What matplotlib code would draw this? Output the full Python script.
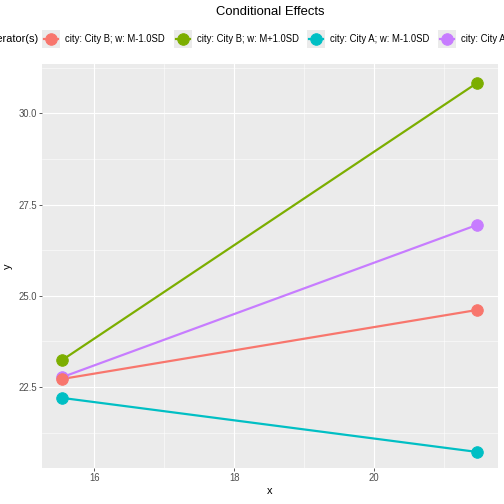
import matplotlib.pyplot as plt
from matplotlib.lines import Line2D
from matplotlib.patches import Rectangle

plt.rcParams['font.family'] = ['Liberation Sans', 'DejaVu Sans']

# data
x_vals = [15.54, 21.47]
labels = ["city: City B; w: M-1.0SD", "city: City B; w: M+1.0SD",
          "city: City A; w: M-1.0SD", "city: City A; w: M+1.0SD"]
colors = ["#F8766D", "#7CAE00", "#00BFC4", "#C77CFF"]
y_red = [22.72, 24.61]
y_green = [23.24, 30.83]
y_cyan = [22.20, 20.72]
y_purple = [22.77, 26.94]
series = [y_red, y_green, y_cyan, y_purple]

fig = plt.figure(figsize=(7, 7), dpi=72)
ax = fig.add_axes([42 / 504, 36 / 504, 456 / 504, 404 / 504])
ax.set_facecolor("#EBEBEB")

# draw order: purple under red at the left point
order = [3, 1, 2, 0]
for i in order:
    ax.plot(x_vals, series[i], color=colors[i], lw=2.2, zorder=3)
for i in order:
    ax.plot(x_vals, series[i], 'o', color=colors[i], ms=11.5, zorder=4)

ax.set_xticks([16, 18, 20])
ax.set_xticks([15, 17, 19, 21], minor=True)
ax.set_yticks([22.5, 25.0, 27.5, 30.0])
ax.set_yticklabels(["22.5", "25.0", "27.5", "30.0"])
ax.set_yticks([21.25, 23.75, 26.25, 28.75, 31.25], minor=True)
ax.set_xlim(15.25, 21.77)
ax.set_ylim(20.28, 31.35)
ax.grid(True, which='major', color='white', lw=1.1, zorder=0)
ax.grid(True, which='minor', color='white', lw=0.55, zorder=0)
ax.set_axisbelow(True)
for s in ax.spines.values():
    s.set_visible(False)
ax.tick_params(which='major', length=3, color='#333333', labelsize=9.5, labelcolor='#4D4D4D', pad=2)
ax.tick_params(which='minor', length=0)
ax.set_xlabel("x", fontsize=11, labelpad=3)
ax.set_ylabel("y", fontsize=11, labelpad=5)

fig.text(270 / 504, 1 - 12 / 504, "Conditional Effects", ha='center', va='center', fontsize=13)

# legend row, drawn by hand so it can run off both edges like the reference
ly = 1 - 39 / 504
fig.text(38 / 504, ly, "Moderator(s)", ha='right', va='center', fontsize=11)
key_x = [42, 174, 307, 438]
for kx, lab, c in zip(key_x, labels, colors):
    fig.patches.append(Rectangle((kx / 504, ly - 9 / 504), 18 / 504, 18 / 504,
                                 transform=fig.transFigure, facecolor="#EBEBEB", edgecolor='none'))
    fig.lines.append(Line2D([(kx + 2) / 504, (kx + 16) / 504], [ly, ly], transform=fig.transFigure,
                            color=c, lw=2.2))
    fig.lines.append(Line2D([(kx + 9) / 504], [ly], transform=fig.transFigure, marker='o',
                            color=c, ms=11.5))
    fig.text((kx + 23) / 504, ly, lab, ha='left', va='center', fontsize=9.5)

fig.savefig("out.png", dpi=72)
